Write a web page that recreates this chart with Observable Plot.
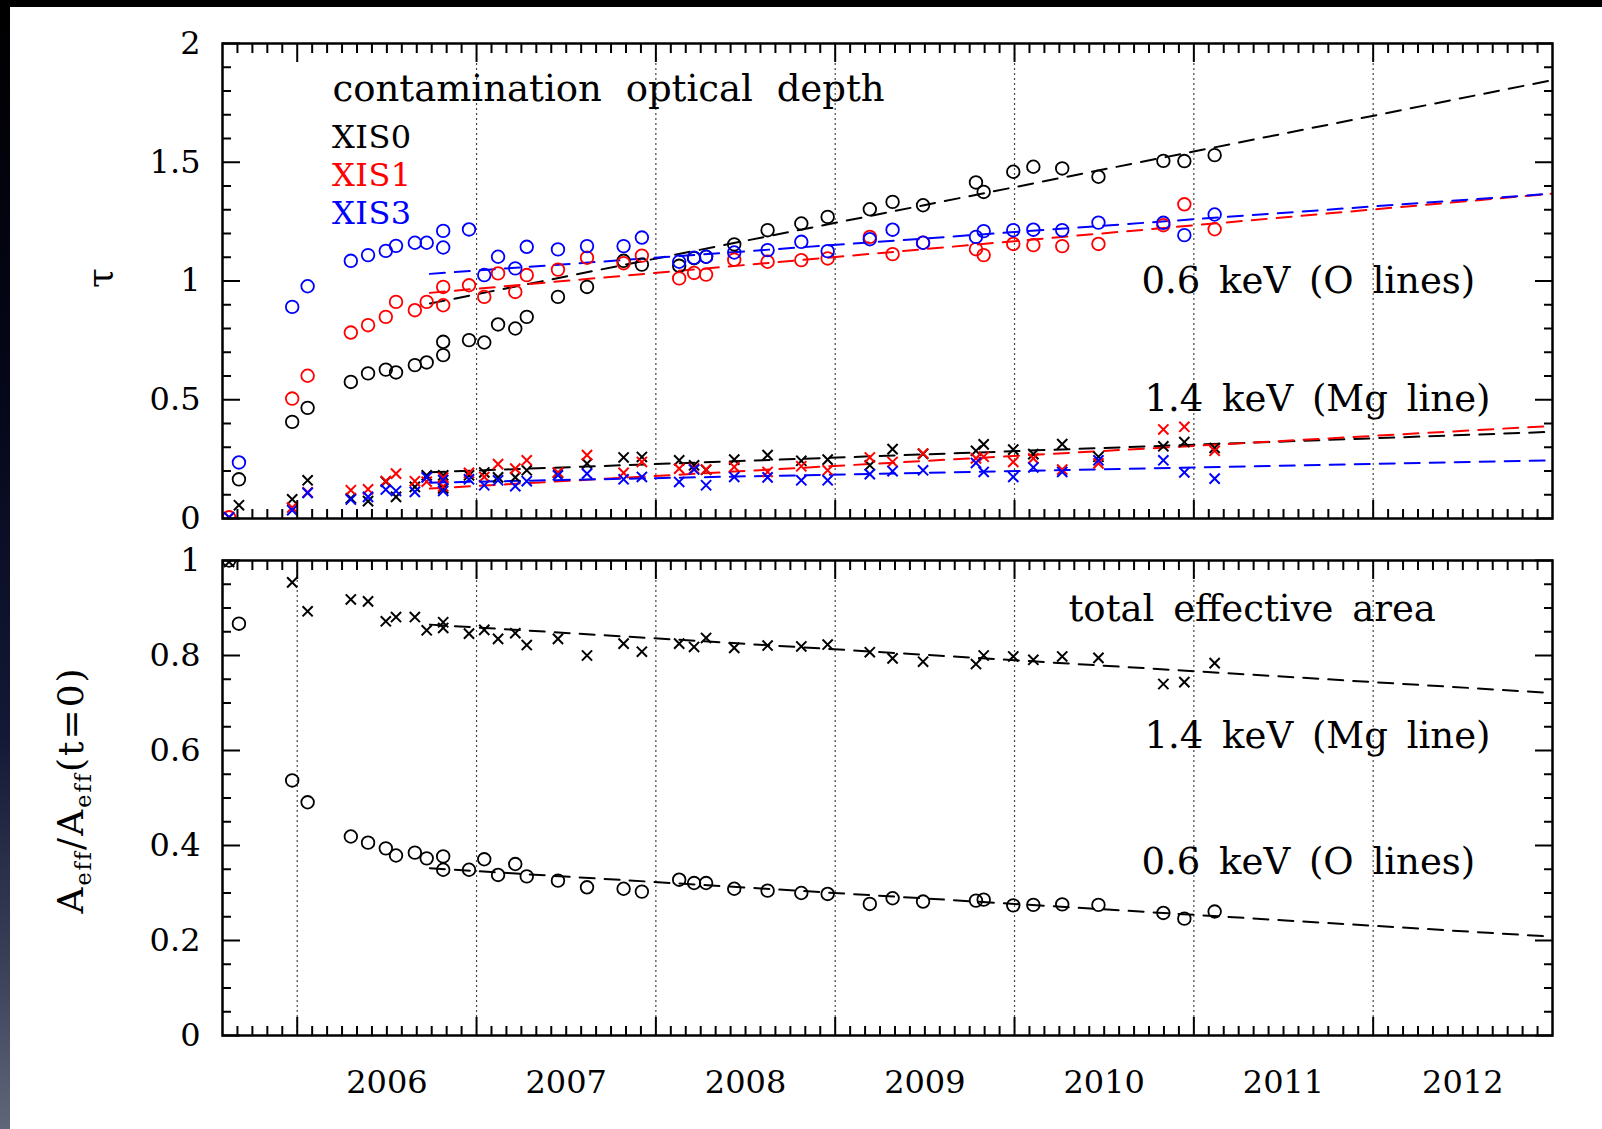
<!DOCTYPE html>
<html><head><meta charset="utf-8">
<script src="https://cdn.jsdelivr.net/npm/d3@7"></script>
<script src="https://cdn.jsdelivr.net/npm/@observablehq/plot@0.6"></script>
<style>
html,body{margin:0;padding:0;background:#fff;}
#wrap{position:relative;width:1602px;height:1129px;background:#fff;overflow:hidden;font-family:"DejaVu Serif",serif;}
#topband{position:absolute;left:0;top:0;width:1602px;height:7px;background:#000;z-index:5}
#leftband{position:absolute;left:0;top:0;width:10px;height:1129px;z-index:5;
  background:linear-gradient(to bottom,#000 0%,#05071a 35%,#141836 65%,#3a3f58 85%,#60667a 100%);}
#p1{position:absolute;left:0;top:0}
#p2{position:absolute;left:0;top:525px}
.ylab{position:absolute;transform:translate(-50%,-50%) rotate(-90deg);white-space:nowrap;color:#000;font-family:"DejaVu Serif",serif;}
.ylab sub{font-size:0.62em;vertical-align:-0.35em;}
#legend{position:absolute;left:332px;top:118px;font-size:32px;font-family:"DejaVu Serif",serif;z-index:4}
#legend div{height:38px;line-height:38px;white-space:nowrap;letter-spacing:0.5px}
svg text{word-spacing:7px}
</style></head>
<body>
<div id="wrap">
  <div id="p1"></div>
  <div id="p2"></div>
  <div id="legend"></div>
  <div class="ylab" style="left:99px;top:278px;font-size:36px;">τ</div>
  <div class="ylab" style="left:73px;top:790px;font-size:36px;letter-spacing:2px;">A<sub>eff</sub>/A<sub>eff</sub>(t=0)</div>
  <div id="topband"></div>
  <div id="leftband"></div>
</div>
<script>
// ---- observation dates (decimal year) ----
const dates = [2005.620, 2005.675, 2005.972, 2006.058, 2006.299, 2006.395, 2006.494, 2006.551, 2006.656, 2006.722,
  2006.814, 2006.814, 2006.958, 2007.043, 2007.120, 2007.216, 2007.280, 2007.454, 2007.616, 2007.820,
  2007.922, 2008.130, 2008.213, 2008.280, 2008.437, 2008.623, 2008.811, 2008.958, 2009.193, 2009.320,
  2009.490, 2009.785, 2009.828, 2009.993, 2010.105, 2010.266, 2010.468, 2010.830, 2010.947, 2011.116];

// ---- optical depth at 0.6 keV (O lines) ----
const xis0_06 = [null, 0.165, 0.407, 0.466, 0.575, 0.611, 0.627, 0.615, 0.646, 0.657,
  0.688, 0.744, 0.751, 0.741, 0.817, 0.800, 0.849, 0.933, 0.975, 1.085,
  1.069, 1.064, 1.096, 1.102, 1.154, 1.214, 1.242, 1.270, 1.302, 1.333,
  1.319, 1.415, 1.375, 1.460, 1.481, 1.474, 1.439, 1.506, 1.505, 1.530];
const xis1_06 = [0.005, null, 0.505, 0.601, 0.783, 0.814, 0.849, 0.912, 0.877, 0.912,
  0.898, 0.975, 0.982, 0.933, 1.032, 0.954, 1.025, 1.048, 1.098, 1.075,
  1.107, 1.011, 1.034, 1.027, 1.090, 1.081, 1.088, 1.095, 1.186, 1.113,
  1.161, 1.134, 1.109, 1.156, 1.151, 1.147, 1.156, 1.235, 1.323, 1.218];
const xis3_06 = [null, 0.236, 0.891, 0.978, 1.085, 1.109, 1.127, 1.148, 1.161, 1.161,
  1.141, 1.211, 1.217, 1.025, 1.102, 1.053, 1.144, 1.133, 1.147, 1.147,
  1.183, 1.081, 1.098, 1.102, 1.120, 1.130, 1.165, 1.126, 1.176, 1.216,
  1.161, 1.186, 1.210, 1.214, 1.216, 1.214, 1.246, 1.245, 1.193, 1.280];

// ---- optical depth at 1.4 keV (Mg line) ----
const xis0_14 = [null, 0.056, 0.081, 0.161, 0.085, 0.073, 0.155, 0.091, 0.133, 0.182,
  0.127, 0.182, 0.182, 0.194, 0.173, 0.173, 0.203, 0.192, 0.231, 0.257,
  0.259, 0.245, 0.224, 0.205, 0.248, 0.267, 0.243, 0.248, 0.224, 0.292,
  0.272, 0.285, 0.312, 0.290, 0.271, 0.313, 0.260, 0.304, 0.322, 0.297];
const xis1_14 = [0.005, null, 0.046, 0.110, 0.119, 0.123, 0.158, 0.189, 0.157, 0.155,
  0.135, 0.172, 0.192, 0.175, 0.229, 0.210, 0.245, 0.194, 0.267, 0.192,
  0.238, 0.210, 0.210, 0.206, 0.217, 0.196, 0.220, 0.203, 0.257, 0.238,
  0.274, 0.253, 0.260, 0.238, 0.253, 0.206, 0.232, 0.375, 0.386, 0.285];
const xis3_14 = [0.005, null, 0.035, 0.108, 0.080, 0.091, 0.122, 0.116, 0.112, 0.173,
  0.116, 0.162, 0.165, 0.140, 0.161, 0.136, 0.157, 0.182, 0.189, 0.165,
  0.175, 0.154, 0.206, 0.140, 0.175, 0.173, 0.161, 0.161, 0.187, 0.199,
  0.203, 0.234, 0.196, 0.175, 0.215, 0.196, 0.245, 0.245, 0.194, 0.168];

// ---- total effective area relative to t=0 ----
const area_06 = [1.000, 0.867, 0.537, 0.491, 0.419, 0.406, 0.394, 0.379, 0.385, 0.373,
  0.377, 0.349, 0.349, 0.371, 0.338, 0.361, 0.335, 0.326, 0.312, 0.309,
  0.303, 0.328, 0.321, 0.321, 0.309, 0.305, 0.300, 0.298, 0.277, 0.289,
  0.282, 0.284, 0.286, 0.274, 0.275, 0.276, 0.275, 0.258, 0.246, 0.261];
const area_14 = [0.997, null, 0.954, 0.893, 0.918, 0.914, 0.872, 0.881, 0.881, 0.853,
  0.870, 0.858, 0.846, 0.854, 0.835, 0.847, 0.822, 0.835, 0.800, 0.825,
  0.808, 0.825, 0.818, 0.837, 0.816, 0.821, 0.819, 0.823, 0.807, 0.794,
  0.787, 0.782, 0.800, 0.798, 0.791, 0.798, 0.795, 0.740, 0.744, 0.784];

// ---- fitted trend lines (start, end) ----
const fitYears = [2006.74, 2013.0];
const fit_xis0_06 = [0.905, 1.846];
const fit_xis1_06 = [0.950, 1.368];
const fit_xis3_06 = [1.030, 1.368];
const fit_xis0_14 = [0.195, 0.365];
const fit_xis1_14 = [0.126, 0.390];
const fit_xis3_14 = [0.151, 0.245];
const fit_area_14 = [0.865, 0.721];
const fit_area_06 = [0.352, 0.208];

// ---- legend entries ----
const legendNames = ["XIS0", "XIS1", "XIS3"];
const legendColors = ["#000000", "#ff0000", "#0000ff"];

// ---- axes / labels ----
const xDomain = [2005 + 7/12, 2013];
const yearTicks = [2006, 2007, 2008, 2009, 2010, 2011, 2012];
const yearLabels = ["2006", "2007", "2008", "2009", "2010", "2011", "2012"];
const dottedTop = [2007, 2008, 2009, 2010, 2011, 2012];
const dottedBottom = [2006, 2007, 2008, 2009, 2010, 2011, 2012];
const tauMajor = [0, 0.5, 1, 1.5, 2];
const areaMajor = [0, 0.2, 0.4, 0.6, 0.8, 1];

const monthTicks = d3.range(-4, 84).filter(m => m % 12 !== 0).map(m => 2006 + m / 12);
const tauMinor = d3.range(1, 20).filter(i => i % 5 !== 0).map(i => i / 10);
const areaMinor = d3.range(1, 20).filter(i => i % 4 !== 0).map(i => i / 20);
const yearLabelPos = yearTicks.map(y => y + 0.5);

const rows = (arr) => dates.map((d, i) => ({date: d, v: arr[i]})).filter(r => r.v != null);
const fitRows = (arr) => fitYears.map((d, i) => ({date: d, v: arr[i]}));

const FONT = "DejaVu Serif";
const ax = (o) => Plot.axisX({label: null, fill: "none", strokeWidth: 2, ...o});
const ay = (o) => Plot.axisY({label: null, fill: "none", strokeWidth: 2, ...o});
function frameTicks(yMaj, yMin) {
  return [
    ...["top", "bottom"].flatMap(a => [ax({anchor: a, ticks: yearTicks, tickSize: -18}), ax({anchor: a, ticks: monthTicks, tickSize: -9})]),
    ...["left", "right"].flatMap(a => [ay({anchor: a, ticks: yMaj, tickSize: -18}), ay({anchor: a, ticks: yMin, tickSize: -9})])
  ];
}
const circ = (arr, color) => Plot.dot(rows(arr), {x: "date", y: "v", r: 6.3, stroke: color, strokeWidth: 1.8, fill: "none", clip: true});
const cross = (arr, color) => Plot.dot(rows(arr), {x: "date", y: "v", r: 4.7, symbol: "times", stroke: color, strokeWidth: 2, clip: true});
const fit = (arr, color) => Plot.line(fitRows(arr), {x: "date", y: "v", stroke: color, strokeWidth: 2, strokeDasharray: "15,10", clip: true});
const note = (t, dx, dy, extra = {}) => Plot.text([t], {text: d => d, frameAnchor: "top-left", dx, dy, textAnchor: "start", lineAnchor: "bottom", fontSize: 37, fill: "black", fontFamily: FONT, ...extra});
const dotted = (yrs) => Plot.ruleX(yrs, {stroke: "#444", strokeWidth: 1.2, strokeDasharray: "2,3"});

const RED = "#ff0000", BLUE = "#0000ff", BLACK = "#000000";

const p1 = Plot.plot({
  width: 1602, height: 545,
  marginLeft: 222, marginRight: 50, marginTop: 43, marginBottom: 27,
  style: {fontFamily: FONT, fontSize: "32px", background: "transparent", color: "#000"},
  x: {domain: xDomain},
  y: {domain: [0, 2]},
  marks: [
    dotted(dottedTop),
    fit(fit_xis0_06, BLACK), fit(fit_xis1_06, RED), fit(fit_xis3_06, BLUE),
    fit(fit_xis0_14, BLACK), fit(fit_xis1_14, RED), fit(fit_xis3_14, BLUE),
    circ(xis0_06, BLACK), circ(xis1_06, RED), circ(xis3_06, BLUE),
    cross(xis0_14, BLACK), cross(xis1_14, RED), cross(xis3_14, BLUE),
    Plot.frame({strokeWidth: 2.5}),
    ...frameTicks(tauMajor, tauMinor),
    Plot.axisY({anchor: "left", ticks: tauMajor, tickSize: 0, tickPadding: 22, tickFormat: d => String(d), label: null, fontSize: 32}),
    note("contamination optical depth", 110, 57, {letterSpacing: 1}),
    note("0.6 keV (O lines)", 919, 249),
    note("1.4 keV (Mg line)", 922, 367)
  ]
});
// extra word spacing for the heading, as in the reference
p1.querySelectorAll("text").forEach(t => { if (t.textContent.startsWith("contamination")) t.style.wordSpacing = "12px"; });
document.getElementById("p1").appendChild(p1);

const legend = document.getElementById("legend");
legendNames.forEach((n, i) => {
  const d = document.createElement("div");
  d.textContent = n;
  d.style.color = legendColors[i];
  legend.appendChild(d);
});

const p2 = Plot.plot({
  width: 1602, height: 604,
  marginLeft: 222, marginRight: 50, marginTop: 35, marginBottom: 94,
  style: {fontFamily: FONT, fontSize: "32px", background: "transparent", color: "#000"},
  x: {domain: xDomain},
  y: {domain: [0, 1]},
  marks: [
    dotted(dottedBottom),
    fit(fit_area_14, BLACK), fit(fit_area_06, BLACK),
    circ(area_06, BLACK),
    cross(area_14, BLACK),
    Plot.frame({strokeWidth: 2.5}),
    ...frameTicks(areaMajor, areaMinor),
    Plot.axisY({anchor: "left", ticks: areaMajor, tickSize: 0, tickPadding: 22, tickFormat: d => String(d), label: null, fontSize: 32}),
    Plot.axisX({anchor: "bottom", ticks: yearLabelPos, tickSize: 0, tickPadding: 35, tickFormat: d => yearLabels[yearLabelPos.indexOf(d)], label: null, fontSize: 32}),
    note("total effective area", 846, 60, {letterSpacing: 1}),
    note("1.4 keV (Mg line)", 922, 187),
    note("0.6 keV (O lines)", 919, 313)
  ]
});
document.getElementById("p2").appendChild(p2);
</script>
</body></html>
